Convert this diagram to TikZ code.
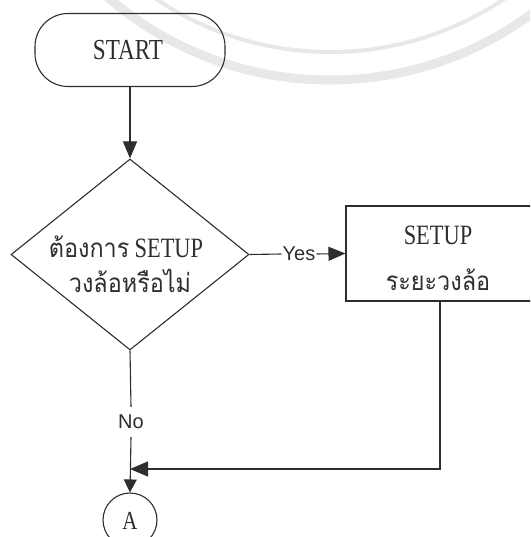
\documentclass[tikz,border=0pt]{standalone}
\usepackage{fontspec}
\setmainfont{Liberation Serif}[FakeStretch=0.8]
\newfontfamily\thai[Script=Thai,FakeStretch=0.9]{Loma}
\newfontfamily\lsans{Liberation Sans}
\usetikzlibrary{shapes.geometric,arrows.meta}
\definecolor{ink}{HTML}{2E2E2E}
\definecolor{wm}{HTML}{E8E8E8}
\tikzset{
  line/.style={draw=ink,line width=1.1pt},
  arr/.style={line,-{Triangle[length=17pt,width=14pt,fill=ink]}},
  lbl/.style={font=\lsans\fontsize{20}{20}\selectfont,text=ink,inner xsep=1pt},
  ser/.style={font=\fontsize{29}{29}\selectfont,text=ink,inner sep=0pt},
  th/.style={font=\fontsize{26}{26}\selectfont,text=ink,inner sep=0pt}
}
\begin{document}
\begin{tikzpicture}[x=1pt,y=-1pt]
\useasboundingbox (0,0) rectangle (530,537);
\clip (0,0) rectangle (530,537);
\fill[white] (0,0) rectangle (530,537);
% faint watermark seal
\draw[wm,line width=9pt] (330,-260) circle[radius=340];
\draw[wm,line width=4pt] (330,-260) circle[radius=312];
% nodes
\node[line,rounded corners=33pt,minimum width=190pt,minimum height=73pt] (start) at (130,50) {};
\node[ser] (starttxt) at (128,50) {START};
\node[line,diamond,minimum width=238pt,minimum height=191pt,inner sep=0pt] (dec) at (130,254.5) {};
\node[th] (dec1) at (126,247) {{\thai ต้องการ} {\fontsize{28}{28}\selectfont SETUP}};
\node[th] (dec2) at (130,281) {\thai วงล้อหรือไม่};
\node[line,minimum width=188pt,minimum height=95pt,inner sep=0pt] (box) at (440,253.5) {};
\node[ser,font=\fontsize{28}{28}\selectfont] (box1) at (438,235) {SETUP};
\node[th] (box2) at (438,280) {\thai ระยะวงล้อ};
\node[lbl] (yes) at (299,254) {Yes};
\node[lbl,inner ysep=8pt] (no) at (131,422) {No};
\node[line,circle,minimum size=54pt,inner sep=0pt] (a) at (130,520) {};
\node[font=\fontsize{26}{26}\selectfont,text=ink,inner sep=0pt] (atxt) at (130,521) {A};
\coordinate (j) at (130,469);
% connectors
\draw[arr] (start.south) -- (dec.north);
\draw[line] (dec.east) -- (yes.west);
\draw[arr] (yes.east) -- (box.west);
\draw[line] (dec.south) -- (no.north);
\draw[line,-{Triangle[length=13pt,width=13pt,fill=ink]}] (no.south) -- (a.north);
\draw[line,-{Triangle[length=18pt,width=15pt,fill=ink]}] (box.south) |- (j);
\end{tikzpicture}
\end{document}
